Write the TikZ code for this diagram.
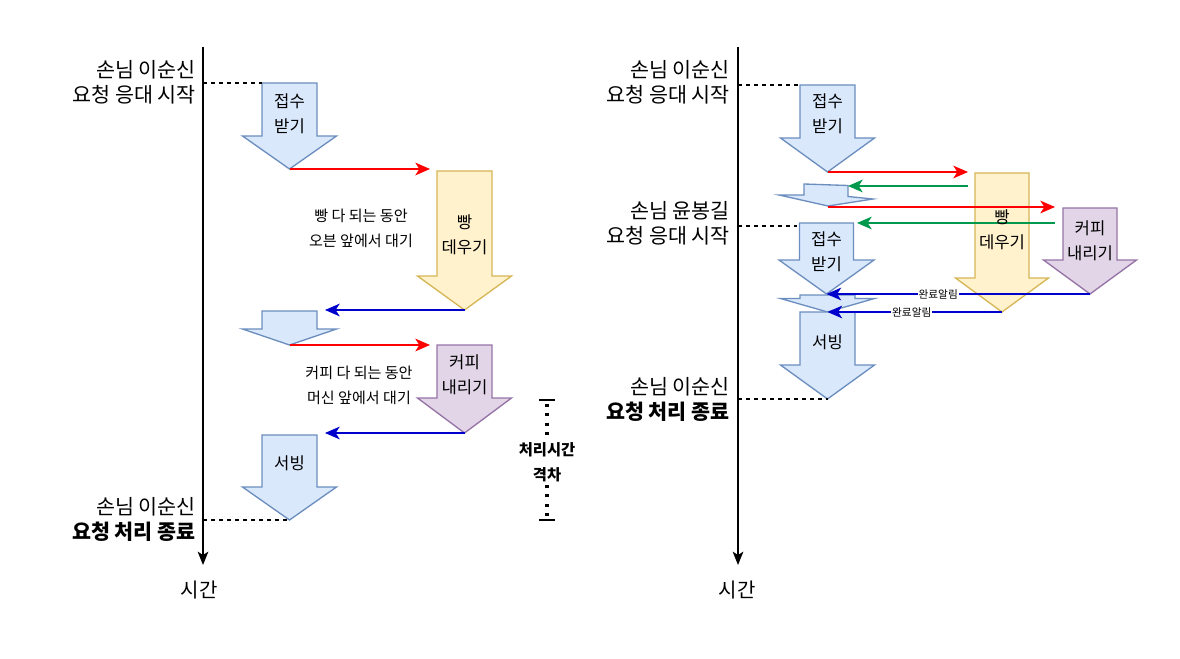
\documentclass[tikz,border=0pt]{standalone}
\usepackage{fontspec}
\setmainfont{Noto Sans CJK KR}
\usetikzlibrary{arrows.meta}
\definecolor{fillblue}{HTML}{DAE8FC}
\definecolor{strokeblue}{HTML}{6C8EBF}
\definecolor{fillyel}{HTML}{FFF2CC}
\definecolor{strokeyel}{HTML}{D6B656}
\definecolor{fillpur}{HTML}{E1D5E7}
\definecolor{strokepur}{HTML}{9673A6}
\definecolor{flowred}{HTML}{FF0000}
\definecolor{flowblue}{HTML}{0000CC}
\definecolor{flowgreen}{HTML}{00994D}
\newcommand{\blkarrow}[8]{% #1 style, #2 name, #3 cx, #4 top, #5 heady, #6 tipy, #7 bodyhalf, #8 headhalf
  \draw[#1] ({#3-#7},#4) coordinate (#2top) -- ({#3+#7},#4) -- ({#3+#7},#5) -- ({#3+#8},#5) -- (#3,#6) coordinate (#2tip) -- ({#3-#8},#5) -- ({#3-#7},#5) -- cycle;
}
\tikzset{
  bluebox/.style={draw=strokeblue, fill=fillblue, line width=1pt, line join=miter},
  yelbox/.style={draw=strokeyel, fill=fillyel, line width=1pt, line join=miter},
  purbox/.style={draw=strokepur, fill=fillpur, line width=1pt, line join=miter},
  flowtip/.style={-{Stealth[length=11pt,width=9.5pt,inset=3pt]}, line width=1.1pt},
  redflow/.style={flowtip, draw=flowred, fill=flowred},
  blueflow/.style={flowtip, draw=flowblue, fill=flowblue},
  greenflow/.style={flowtip, draw=flowgreen, fill=flowgreen},
  timeaxis/.style={line width=1.1pt, -{Stealth[length=10pt,width=8pt,inset=2.5pt]}},
  guide/.style={line width=0.8pt, dash pattern=on 3pt off 3pt},
  lbl/.style={font=\fontsize{15.5}{18.75}\selectfont, align=right, inner sep=0pt, anchor=east},
  boxtxt/.style={font=\fontsize{12.5}{18.75}\selectfont, align=center, inner sep=0pt},
  waittxt/.style={font=\fontsize{11.3}{18.75}\selectfont, align=center, inner sep=0pt},
  timetxt/.style={font=\fontsize{15}{18}\selectfont, inner sep=0pt},
  gaptxt/.style={font=\bfseries\fontsize{11.5}{19}\selectfont, align=center, inner sep=1pt},
  gapline/.style={line width=2.4pt, dash pattern=on 2.2pt off 4.8pt, dash phase=4pt},
  gapbar/.style={line width=1pt},
  donetxt/.style={font=\fontsize{8}{9}\selectfont, fill=white, inner sep=0.6pt, pos=#1},
}
\begin{document}
\begin{tikzpicture}[x=0.75pt,y=-0.75pt]
\useasboundingbox (0,0) rectangle (1180,659);

% ================= LEFT =================
\coordinate (axL0) at (203,47);
\coordinate (axL1) at (203,565);
\draw[timeaxis] (axL0) -- (axL1);
\node[timetxt] (timeL) at (199,590) {시간};

\blkarrow{bluebox}{A1}{289.5}{83}{136}{169}{27.5}{47}
\blkarrow{yelbox}{Y1}{464.5}{171}{276}{310}{27.5}{47}
\blkarrow{bluebox}{A2}{289.5}{311}{329}{345}{27.5}{47}
\blkarrow{purbox}{P1}{464.5}{345}{398}{433}{27.5}{47}
\blkarrow{bluebox}{A3}{289.5}{435}{487}{520}{27.5}{47}

\coordinate (R1e) at (430,169);
\coordinate (B1e) at (325,310);
\coordinate (R2e) at (430,345);
\coordinate (B2e) at (325,433);
\draw[redflow] (A1tip) -- (R1e);
\draw[blueflow] (Y1tip) -- (B1e);
\draw[redflow] (A2tip) -- (R2e);
\draw[blueflow] (P1tip) -- (B2e);

\draw[guide] (axL0 |- A1top) -- (A1top);
\draw[guide] (axL0 |- A3tip) -- (A3tip);

\node[lbl] (lL1) at (196,82.5) {손님 이순신\\요청 응대 시작};
\node[lbl] (lL2) at (196,519.5) {손님 이순신\\\textbf{요청 처리 종료}};

\node[boxtxt] (tA1) at (289.5,113.5) {접수\\받기};
\node[boxtxt] (tY1) at (464.5,235) {빵\\데우기};
\node[boxtxt] (tP1) at (464.5,375) {커피\\내리기};
\node[boxtxt] (tA3) at (289.5,463) {서빙};
\node[waittxt] (w1) at (361,228.5) {빵 다 되는 동안\\오븐 앞에서 대기};
\node[waittxt] (w2) at (359,385.5) {커피 다 되는 동안\\머신 앞에서 대기};

\coordinate (gT) at (547,400);
\coordinate (gB) at (547,520);
\node[gaptxt] (gap) at (547,462) {처리시간\\격차};
\draw[gapline] (gT) -- (gap.north);
\draw[gapline] (gB) -- (gap.south);
\draw[gapbar] (gT) ++(-8,0) -- ++(16,0);
\draw[gapbar] (gB) ++(-8,0) -- ++(16,0);

% ================= RIGHT =================
\coordinate (axR0) at (738,47);
\coordinate (axR1) at (738,565);
\draw[timeaxis] (axR0) -- (axR1);
\node[timetxt] (timeR) at (737,590) {시간};

\blkarrow{bluebox}{C1}{827.5}{85}{138}{172}{27.5}{47}
\blkarrow{yelbox}{Y2}{1002}{173}{278}{312}{27}{46.5}
\draw[bluebox] (804,184) -- (848,185.5) -- (848,196.5) -- (873,199) -- (828,206) coordinate (C2tip) -- (779,195) -- (804,195) -- cycle;
\blkarrow{purbox}{P2}{1090}{208}{260}{294}{27}{46.5}
\blkarrow{bluebox}{C3}{826.5}{223}{260}{294}{27}{47.5}
\blkarrow{bluebox}{C4}{827.5}{295}{298.5}{312}{27.5}{47}
\blkarrow{bluebox}{C5}{827.5}{312}{365}{399}{27.5}{47}

\coordinate (Rr1e) at (968,172);
\coordinate (Gr1s) at (968,186);
\coordinate (Gr1e) at (848,186);
\coordinate (Rr2s) at (828,207);
\coordinate (Rr2e) at (1055,207);
\coordinate (Gr2s) at (1055,223);
\coordinate (Gr2e) at (857,223);
\draw[redflow] (C1tip) -- (Rr1e);
\draw[greenflow] (Gr1s) -- (Gr1e);
\draw[redflow] (Rr2s) -- (Rr2e);
\draw[greenflow] (Gr2s) -- (Gr2e);
\draw[blueflow] (P2tip) -- node[donetxt=0.576] (done1) {완료알림} (C3tip);
\draw[blueflow] (Y2tip) -- node[donetxt=0.517] (done2) {완료알림} (C4tip);

\coordinate (dR2e) at (797,226);
\draw[guide] (axR0 |- C1top) -- (C1top);
\draw[guide] (axR0 |- dR2e) -- (dR2e);
\draw[guide] (axR0 |- C5tip) -- (C5tip);

\node[lbl] (lR1) at (730,82) {손님 이순신\\요청 응대 시작};
\node[lbl] (lR2) at (730,223) {손님 윤봉길\\요청 응대 시작};
\node[lbl] (lR3) at (730,399) {손님 이순신\\\textbf{요청 처리 종료}};

\node[boxtxt] (tC1) at (827.5,113.5) {접수\\받기};
\node[boxtxt] (tY2) at (1002,229.5) {빵\\데우기};
\node[boxtxt] (tP2) at (1090,240.5) {커피\\내리기};
\node[boxtxt] (tC3) at (826.5,252) {접수\\받기};
\node[boxtxt] (tC5) at (827.5,342) {서빙};
\end{tikzpicture}
\end{document}
